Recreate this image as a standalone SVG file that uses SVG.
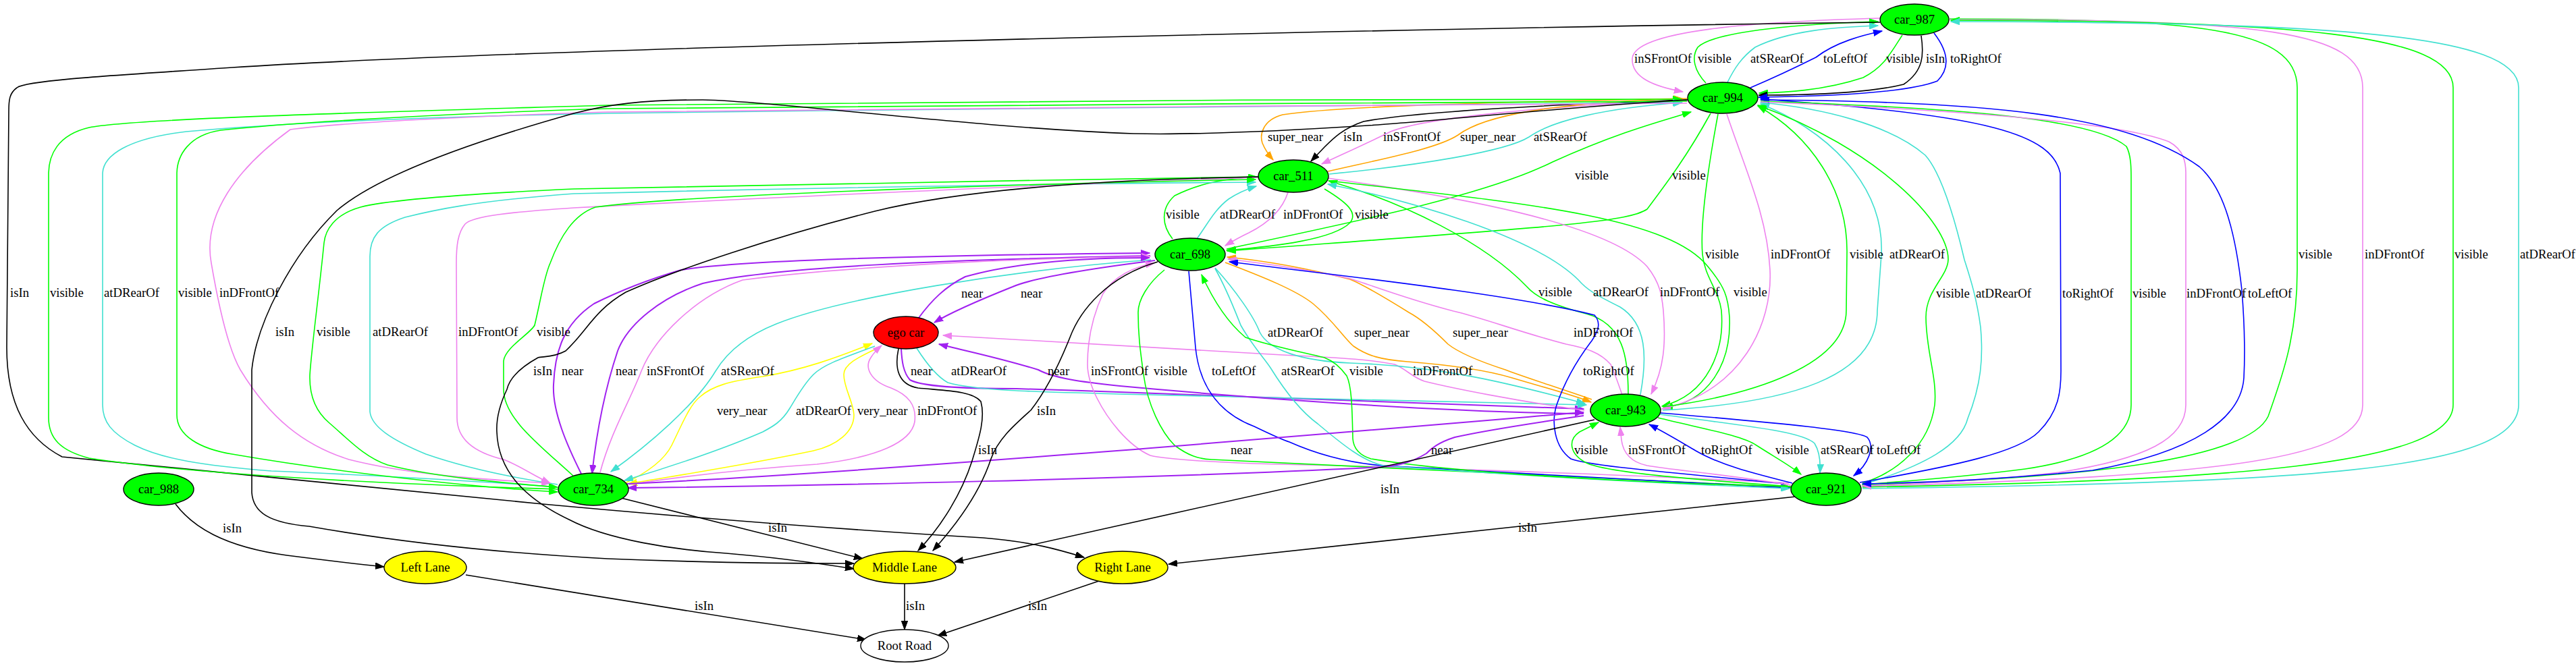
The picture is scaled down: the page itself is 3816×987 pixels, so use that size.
<svg xmlns="http://www.w3.org/2000/svg" width="3816" height="987" viewBox="0 0 3816 987">
<style>
.e{fill:none;stroke-width:1.6}
.k{stroke:#000000;marker-end:url(#ak)}
.b{stroke:#0000ff;marker-end:url(#ab)}
.g{stroke:#00ff00;marker-end:url(#ag)}
.c{stroke:#40e0d0;marker-end:url(#ac)}
.v{stroke:#ee82ee;marker-end:url(#av)}
.p{stroke:#a020f0;stroke-width:2;marker-end:url(#ap)}
.o{stroke:#ffa500;marker-end:url(#ao)}
.y{stroke:#ffff00;marker-end:url(#ay)}
.l{font-family:"Liberation Serif","Times New Roman",serif;font-size:18.67px;fill:#000000}
.n{font-family:"Liberation Serif","Times New Roman",serif;font-size:18.67px;fill:#000000;text-anchor:middle}
.nd{stroke:#000000;stroke-width:1.4}
</style>
<defs>
<marker id="ak" viewBox="0 0 14 10" refX="13" refY="5" markerWidth="14" markerHeight="10" markerUnits="userSpaceOnUse" orient="auto"><path d="M0,0.3L13,5L0,9.7z" fill="#000000" stroke="#000000"/></marker>
<marker id="ab" viewBox="0 0 14 10" refX="13" refY="5" markerWidth="14" markerHeight="10" markerUnits="userSpaceOnUse" orient="auto"><path d="M0,0.3L13,5L0,9.7z" fill="#0000ff" stroke="#0000ff"/></marker>
<marker id="ag" viewBox="0 0 14 10" refX="13" refY="5" markerWidth="14" markerHeight="10" markerUnits="userSpaceOnUse" orient="auto"><path d="M0,0.3L13,5L0,9.7z" fill="#00ff00" stroke="#00ff00"/></marker>
<marker id="ac" viewBox="0 0 14 10" refX="13" refY="5" markerWidth="14" markerHeight="10" markerUnits="userSpaceOnUse" orient="auto"><path d="M0,0.3L13,5L0,9.7z" fill="#40e0d0" stroke="#40e0d0"/></marker>
<marker id="av" viewBox="0 0 14 10" refX="13" refY="5" markerWidth="14" markerHeight="10" markerUnits="userSpaceOnUse" orient="auto"><path d="M0,0.3L13,5L0,9.7z" fill="#ee82ee" stroke="#ee82ee"/></marker>
<marker id="ap" viewBox="0 0 14 10" refX="13" refY="5" markerWidth="14" markerHeight="10" markerUnits="userSpaceOnUse" orient="auto"><path d="M0,0.3L13,5L0,9.7z" fill="#a020f0" stroke="#a020f0"/></marker>
<marker id="ao" viewBox="0 0 14 10" refX="13" refY="5" markerWidth="14" markerHeight="10" markerUnits="userSpaceOnUse" orient="auto"><path d="M0,0.3L13,5L0,9.7z" fill="#ffa500" stroke="#ffa500"/></marker>
<marker id="ay" viewBox="0 0 14 10" refX="13" refY="5" markerWidth="14" markerHeight="10" markerUnits="userSpaceOnUse" orient="auto"><path d="M0,0.3L13,5L0,9.7z" fill="#ffff00" stroke="#ffff00"/></marker>
</defs>
<rect width="3816" height="987" fill="#ffffff"/>
<g id="connectors">
<!-- car_987 <-> car_994 -->
<path class="e v" d="M2786,27 C2600,32 2420,45 2418,87 C2417,115 2450,128 2493,136"/>
<path class="e g" d="M2527,123 C2510,105 2505,85 2515,70 C2540,45 2680,35 2782,32"/>
<path class="e c" d="M2559,122 C2570,100 2580,85 2600,70 C2650,45 2720,40 2782,38"/>
<path class="e b" d="M2593,130 C2640,110 2670,95 2690,85 C2720,62 2760,52 2788,46"/>
<path class="e g" d="M2818,52 C2800,80 2790,100 2760,115 C2700,135 2640,137 2606,138"/>
<path class="e k" d="M2846,53 C2850,80 2850,105 2820,125 C2760,140 2660,141 2605,141"/>
<path class="e b" d="M2865,49 C2885,75 2890,100 2870,120 C2820,140 2680,143 2605,144"/>
<!-- car_987 isIn Right Lane -->
<path class="e k" d="M2785,33 C2200,40 800,70 344,100 C200,110 40,118 25,130 C14,138 13,148 13,165 L10,515 C10,600 40,650 92,677 L804,747 C1000,765 1200,782 1456,797 C1530,803 1570,815 1606,826"/>
<!-- car_987 <-> car_921 -->
<path class="e g" d="M2888,28 C3250,28 3403,40 3403,130 L3403,400 C3403,500 3380,560 3360,617 C3330,680 3100,708 2759,719"/>
<path class="e v" d="M2888,29 C3350,29 3500,45 3500,130 L3500,600 C3500,680 3300,705 2759,721"/>
<path class="e g" d="M2759,722 C3300,712 3634,690 3634,600 L3634,130 C3634,50 3400,31 2890,30"/>
<path class="e c" d="M2759,724 C3400,715 3731,700 3731,600 L3731,130 C3731,50 3450,33 2890,32"/>
<!-- car_994 <-> car_511 -->
<path class="e o" d="M2499,146 C2300,150 2000,155 1900,170 C1870,178 1866,200 1870,212 C1874,222 1879,229 1886,237"/>
<path class="e k" d="M2500,148 C2300,155 2100,165 2020,180 C1990,190 1975,205 1962,218 L1942,239"/>
<path class="e v" d="M2500,150 C2300,155 2110,175 2060,195 C2030,210 1990,228 1958,243"/>
<path class="e o" d="M1967,254 C2050,235 2130,220 2160,200 C2200,170 2300,153 2492,146"/>
<path class="e c" d="M1969,258 C2100,245 2230,225 2265,203 C2300,178 2380,160 2492,152"/>
<!-- car_994 <-> car_698 -->
<path class="e g" d="M1817,369 C2000,330 2200,290 2300,240 C2400,195 2460,180 2505,166"/>
<path class="e g" d="M2534,168 C2500,230 2470,270 2440,310 C2410,330 2300,336 1818,372"/>
<!-- car_511 <-> car_698 -->
<path class="e g" d="M1737,354 C1722,335 1718,310 1740,290 C1780,270 1820,264 1862,262"/>
<path class="e c" d="M1773,354 C1790,330 1800,310 1820,295 C1835,285 1848,280 1861,276"/>
<path class="e v" d="M1908,285 C1900,310 1880,330 1850,345 C1835,352 1825,358 1815,364"/>
<path class="e g" d="M1962,280 C1995,300 2012,315 2000,330 C1975,355 1890,365 1817,371"/>
<!-- car_511 <-> car_943 -->
<path class="e g" d="M2412,584 C2412,530 2405,480 2350,465 C2300,452 2275,440 2262,425 C2200,360 2080,300 1968,268"/>
<path class="e c" d="M2430,585 C2440,530 2440,480 2400,455 C2370,440 2355,432 2343,420 C2280,350 2080,295 1967,273"/>
<path class="e v" d="M1967,264 C2150,290 2380,330 2440,395 C2460,420 2462,440 2464,460 C2468,510 2465,545 2446,584"/>
<path class="e g" d="M1968,268 C2250,300 2470,320 2530,395 C2555,425 2560,440 2562,470 C2565,540 2530,597 2465,604"/>
<!-- car_994 <-> car_943 -->
<path class="e g" d="M2545,169 C2530,250 2518,330 2522,377 C2525,410 2546,430 2550,460 C2555,520 2530,585 2462,602"/>
<path class="e v" d="M2558,169 C2585,250 2618,320 2622,400 C2626,480 2580,580 2462,606"/>
<path class="e g" d="M2463,603 C2600,585 2735,540 2735,460 L2736,377 C2738,280 2680,200 2604,157"/>
<path class="e c" d="M2463,608 C2650,597 2781,560 2781,460 L2787,377 C2792,270 2700,190 2608,154"/>
<!-- car_994 <-> car_921 -->
<path class="e g" d="M2759,716 C2810,700 2858,660 2866,600 C2870,560 2853,520 2853,470 C2853,430 2885,410 2886,385 C2887,330 2780,220 2604,156"/>
<path class="e c" d="M2763,717 C2850,690 2905,660 2915,620 C2935,570 2938,530 2934,485 C2928,440 2918,410 2910,385 C2890,300 2870,250 2852,230 C2800,185 2700,160 2608,152"/>
<path class="e b" d="M2755,715 C2900,690 2990,670 3020,640 C3050,610 3053,580 3053,550 L3052,257 C3040,200 2950,170 2608,147"/>
<path class="e g" d="M2608,150 C2900,160 3100,175 3150,217 C3157,230 3157,250 3157,263 L3157,600 C3157,650 3100,680 3000,695 C2900,708 2800,715 2759,718"/>
<path class="e v" d="M2608,151 C2950,165 3150,185 3213,210 C3235,222 3238,240 3238,257 L3238,600 C3238,650 3180,680 3050,700 C2950,712 2820,718 2759,720"/>
<path class="e b" d="M2608,148 C2950,150 3150,170 3258,247 C3290,275 3310,330 3321,430 C3325,480 3326,520 3324,560 C3320,620 3250,670 3100,697 C2950,712 2820,716 2759,717"/>
<!-- car_994 <-> car_734 -->
<path class="e g" d="M826,725 C600,718 300,705 132,679 C90,668 72,650 72,619 L72,258 C72,230 85,200 132,189 C200,175 600,165 900,156 C1200,150 2000,147 2491,147"/>
<path class="e c" d="M826,722 C700,712 500,702 402,698 C300,690 240,680 200,660 C165,642 152,625 152,600 L152,258 C152,230 190,205 276,195 C500,175 800,170 900,168 C1500,160 2200,153 2491,152"/>
<path class="e g" d="M2499,150 C2000,152 1200,158 900,161 C600,170 400,185 327,193 C280,200 262,230 262,258 L262,615 C262,645 295,665 344,673 C500,700 700,722 826,729"/>
<path class="e v" d="M2499,153 C2000,156 1200,162 900,166 C700,172 500,182 430,192 C350,250 300,320 313,390 C325,460 340,520 356,548 C400,620 450,660 517,681 C600,702 700,710 815,716"/>
<!-- car_511 <-> car_734 -->
<path class="e g" d="M1864,262 C1500,268 1000,275 850,280 C700,287 580,295 534,307 C495,318 482,341 480,360 C472,440 461,520 459,556 C458,590 470,612 488,627 C515,650 540,678 574,689 C650,708 750,716 826,722"/>
<path class="e c" d="M826,718 C740,705 680,690 631,673 C580,652 550,632 548,610 L548,380 C548,352 560,335 600,322 C640,312 700,298 850,287 C1300,276 1700,271 1860,270"/>
<path class="e v" d="M1865,263 C1500,275 1000,300 850,308 C760,314 700,320 689,332 C678,345 676,365 676,390 L677,619 C677,650 700,670 746,681 C770,690 790,705 815,716"/>
<path class="e g" d="M850,706 C800,660 746,620 746,577 L746,535 C748,515 785,495 792,482 C802,440 806,410 815,390 C830,350 850,318 882,307 C1000,290 1500,272 1860,266"/>
<!-- car_698 <-> car_734 -->
<path class="e p" d="M861,702 C840,660 818,610 820,570 C822,520 835,480 880,450 C930,425 975,410 1009,400 C1100,385 1400,378 1703,375"/>
<path class="e p" d="M1704,379 C1400,385 1150,395 1041,420 C980,440 930,480 915,520 C900,565 885,630 877,702"/>
<path class="e v" d="M889,700 C905,640 935,590 950,550 C970,500 1030,440 1100,415 C1250,395 1500,383 1704,380"/>
<path class="e c" d="M1705,385 C1500,400 1250,440 1150,480 C1100,500 1075,525 1060,550 C1030,600 960,660 905,699"/>
<!-- car_698 <-> ego car -->
<path class="e p" d="M1361,471 C1380,445 1400,425 1430,410 C1500,390 1600,382 1703,382"/>
<path class="e p" d="M1711,386 C1600,400 1530,412 1500,425 C1450,445 1410,462 1384,478"/>
<!-- ego car <-> car_734 -->
<path class="e y" d="M924,717 C960,700 985,680 995,660 C1012,625 1022,600 1037,588 C1055,572 1080,565 1130,558 C1190,548 1240,530 1292,509"/>
<path class="e c" d="M1296,513 C1250,530 1220,540 1205,555 C1190,570 1178,592 1170,605 C1158,625 1145,632 1130,640 C1080,662 1000,690 925,712"/>
<path class="e y" d="M1300,516 C1270,530 1250,540 1250,555 C1250,575 1264,595 1265,615 C1265,640 1240,660 1205,668 C1100,690 1000,705 931,717"/>
<path class="e v" d="M932,718 C1050,700 1150,692 1210,688 C1300,678 1350,655 1355,625 C1358,600 1345,585 1320,575 C1290,565 1280,545 1290,530 C1295,522 1300,517 1306,512"/>
<!-- ego car <-> car_943 -->
<path class="e p" d="M1335,517 C1336,535 1338,552 1348,563 C1370,575 1450,576 1506,576 C1800,585 2100,597 2346,606"/>
<path class="e c" d="M1358,516 C1372,538 1388,558 1404,567 C1450,580 1550,581 1700,585 C1950,592 2200,597 2350,600"/>
<path class="e p" d="M2346,613 C2100,610 1800,585 1659,572 C1600,566 1560,560 1538,548 C1480,530 1430,520 1391,510"/>
<path class="e v" d="M2347,608 C2250,595 2150,575 2110,565 C2090,558 2085,548 2066,540 C2030,533 2000,531 1900,526 C1700,515 1500,503 1397,497"/>
<!-- car_698 <-> car_943 -->
<path class="e o" d="M1815,389 C1870,410 1920,430 1945,450 C1975,475 1990,500 2005,513 C2025,527 2045,533 2085,536 C2150,541 2200,548 2240,560 C2290,575 2330,585 2357,596"/>
<path class="e o" d="M2358,592 C2300,572 2250,556 2230,548 C2190,535 2160,522 2145,510 C2120,485 2100,470 2087,463 C2050,440 2020,422 2000,414 C1930,396 1870,386 1818,381"/>
<path class="e c" d="M1800,397 C1830,430 1858,470 1866,492 C1880,520 1930,535 2000,538 C2150,543 2260,575 2348,598"/>
<path class="e v" d="M2403,585 C2395,562 2390,548 2386,540 C2370,522 2350,516 2320,510 C2250,492 2200,472 2153,461 C2080,442 2030,422 2000,413 C1930,398 1870,390 1819,384"/>
<!-- car_698 <-> car_921 -->
<path class="e v" d="M2650,716 C2400,702 2000,690 1857,687 C1780,684 1725,680 1704,675 C1670,660 1640,620 1625,590 C1615,570 1611,555 1611,540 C1611,500 1620,465 1634,435 C1650,410 1680,395 1710,390"/>
<path class="e g" d="M1725,400 C1700,420 1686,445 1686,463 C1686,500 1690,525 1694,555 C1700,600 1720,640 1740,660 C1760,675 1775,680 1795,681 C1950,690 2300,703 2653,722"/>
<path class="e b" d="M1761,402 C1765,450 1769,490 1771,515 C1776,565 1800,610 1858,632 C1885,645 1900,652 1910,655 C1955,675 2000,686 2048,690 C2200,700 2450,712 2651,723"/>
<path class="e c" d="M1800,398 C1818,430 1830,462 1838,482 C1855,512 1872,530 1882,545 C1905,582 1930,612 1952,628 C1990,660 2020,684 2050,690 C2250,705 2450,716 2651,724"/>
<path class="e g" d="M2652,721 C2400,715 2150,700 2031,680 C2015,675 2005,665 2004,650 C2003,600 2002,572 1995,557 C1985,543 1975,535 1962,530 C1920,520 1880,512 1845,500 C1815,475 1795,440 1780,407"/>
<path class="e b" d="M2643,717 C2500,702 2360,692 2327,680 C2302,662 2298,625 2306,600 C2318,565 2335,535 2358,505 C2368,490 2372,478 2362,467 C2250,438 2000,410 1821,388"/>
<!-- car_943 <-> car_921 -->
<path class="e g" d="M2653,721 C2500,710 2380,700 2350,686 C2325,673 2322,652 2340,640 L2368,626"/>
<path class="e v" d="M2653,719 C2550,702 2480,697 2440,690 C2412,684 2404,668 2402,652 L2400,633"/>
<path class="e b" d="M2655,716 C2600,702 2550,690 2512,668 C2485,652 2465,640 2443,629"/>
<path class="e g" d="M2456,619 C2520,635 2580,645 2602,660 C2630,678 2652,690 2668,703"/>
<path class="e c" d="M2459,614 C2600,633 2670,640 2688,657 C2696,670 2697,685 2696,701"/>
<path class="e b" d="M2460,612 C2650,628 2750,638 2766,648 C2778,662 2768,688 2746,705"/>
<!-- car_943 <-> car_734 -->
<path class="e p" d="M929,717 C1300,700 2000,640 2346,611"/>
<path class="e p" d="M2346,616 C2250,630 2190,640 2155,648 C2130,656 2120,665 2113,672 C2090,686 2070,690 2048,692 C1700,710 1200,720 930,723"/>
<!-- isIn to lanes -->
<path class="e k" d="M2499,148 C2300,160 2100,182 2026,186 C1900,194 1760,200 1679,198 C1450,190 1150,150 1041,148 C950,148 900,155 850,168 C700,210 560,260 499,312 C430,380 380,480 373,548 L373,730 C375,760 400,775 458,780 C600,805 750,820 900,828 C1050,834 1180,835 1265,835"/>
<path class="e k" d="M1864,262 C1700,265 1450,275 1296,313 C1150,350 1000,400 927,433 C880,460 870,490 838,520 C820,530 805,528 797,530 C770,545 755,560 751,577 C740,600 735,620 736,640 C738,700 780,740 843,770 C900,800 1000,815 1076,820 C1150,826 1220,836 1265,843"/>
<path class="e k" d="M1715,388 C1640,410 1600,460 1585,500 C1565,550 1545,585 1527,608 C1500,632 1478,652 1468,680 C1450,735 1410,785 1382,816"/>
<path class="e k" d="M1331,517 C1325,545 1330,570 1360,575 C1400,579 1440,579 1453,595 C1460,620 1450,650 1440,683 C1425,730 1395,780 1360,816"/>
<path class="e k" d="M2362,622 L1414,833"/>
<path class="e k" d="M920,738 L1278,828"/>
<path class="e k" d="M2660,736 L1731,836"/>
<path class="e k" d="M260,747 C285,780 330,810 425,823 C480,830 530,836 569,840"/>
<path class="e k" d="M690,852 L1283,948"/>
<path class="e k" d="M1340,865 L1340,933"/>
<path class="e k" d="M1628,861 L1389,942"/>
<g id="edge-labels">
<text class="l" x="2421" y="93">inSFrontOf</text>
<text class="l" x="2515" y="93">visible</text>
<text class="l" x="2593" y="93">atSRearOf</text>
<text class="l" x="2701" y="93">toLeftOf</text>
<text class="l" x="2794" y="93">visible</text>
<text class="l" x="2853" y="93">isIn</text>
<text class="l" x="2889" y="93">toRightOf</text>
<text class="l" x="15" y="440">isIn</text>
<text class="l" x="3405" y="383">visible</text>
<text class="l" x="3503" y="383">inDFrontOf</text>
<text class="l" x="3636" y="383">visible</text>
<text class="l" x="3733" y="383">atDRearOf</text>
<text class="l" x="1878" y="209">super_near</text>
<text class="l" x="1990" y="209">isIn</text>
<text class="l" x="2049" y="209">inSFrontOf</text>
<text class="l" x="2163" y="209">super_near</text>
<text class="l" x="2272" y="209">atSRearOf</text>
<text class="l" x="2333" y="266">visible</text>
<text class="l" x="2477" y="266">visible</text>
<text class="l" x="1727" y="324">visible</text>
<text class="l" x="1807" y="324">atDRearOf</text>
<text class="l" x="1901" y="324">inDFrontOf</text>
<text class="l" x="2007" y="324">visible</text>
<text class="l" x="2279" y="439">visible</text>
<text class="l" x="2360" y="439">atDRearOf</text>
<text class="l" x="2459" y="439">inDFrontOf</text>
<text class="l" x="2568" y="439">visible</text>
<text class="l" x="2526" y="383">visible</text>
<text class="l" x="2623" y="383">inDFrontOf</text>
<text class="l" x="2740" y="383">visible</text>
<text class="l" x="2799" y="383">atDRearOf</text>
<text class="l" x="2868" y="441">visible</text>
<text class="l" x="2927" y="441">atDRearOf</text>
<text class="l" x="3055" y="441">toRightOf</text>
<text class="l" x="3159" y="441">visible</text>
<text class="l" x="3239" y="441">inDFrontOf</text>
<text class="l" x="3330" y="441">toLeftOf</text>
<text class="l" x="74" y="440">visible</text>
<text class="l" x="154" y="440">atDRearOf</text>
<text class="l" x="264" y="440">visible</text>
<text class="l" x="325" y="440">inDFrontOf</text>
<text class="l" x="408" y="498">isIn</text>
<text class="l" x="469" y="498">visible</text>
<text class="l" x="552" y="498">atDRearOf</text>
<text class="l" x="679" y="498">inDFrontOf</text>
<text class="l" x="795" y="498">visible</text>
<text class="l" x="790" y="556">isIn</text>
<text class="l" x="832" y="556">near</text>
<text class="l" x="912" y="556">near</text>
<text class="l" x="958" y="556">inSFrontOf</text>
<text class="l" x="1068" y="556">atSRearOf</text>
<text class="l" x="1424" y="441">near</text>
<text class="l" x="1512" y="441">near</text>
<text class="l" x="1062" y="615">very_near</text>
<text class="l" x="1179" y="615">atDRearOf</text>
<text class="l" x="1270" y="615">very_near</text>
<text class="l" x="1359" y="615">inDFrontOf</text>
<text class="l" x="1536" y="615">isIn</text>
<text class="l" x="1349" y="556">near</text>
<text class="l" x="1409" y="556">atDRearOf</text>
<text class="l" x="1552" y="556">near</text>
<text class="l" x="2093" y="556">inDFrontOf</text>
<text class="l" x="1878" y="499">atDRearOf</text>
<text class="l" x="2006" y="499">super_near</text>
<text class="l" x="2152" y="499">super_near</text>
<text class="l" x="2331" y="499">inDFrontOf</text>
<text class="l" x="1616" y="556">inSFrontOf</text>
<text class="l" x="1709" y="556">visible</text>
<text class="l" x="1795" y="556">toLeftOf</text>
<text class="l" x="1898" y="556">atSRearOf</text>
<text class="l" x="1999" y="556">visible</text>
<text class="l" x="2345" y="556">toRightOf</text>
<text class="l" x="2332" y="673">visible</text>
<text class="l" x="2412" y="673">inSFrontOf</text>
<text class="l" x="2520" y="673">toRightOf</text>
<text class="l" x="2630" y="673">visible</text>
<text class="l" x="2697" y="673">atSRearOf</text>
<text class="l" x="2780" y="673">toLeftOf</text>
<text class="l" x="1823" y="673">near</text>
<text class="l" x="2120" y="673">near</text>
<text class="l" x="1449" y="673">isIn</text>
<text class="l" x="2045" y="731">isIn</text>
<text class="l" x="1138" y="788">isIn</text>
<text class="l" x="2249" y="788">isIn</text>
<text class="l" x="330" y="789">isIn</text>
<text class="l" x="1029" y="904">isIn</text>
<text class="l" x="1342" y="904">isIn</text>
<text class="l" x="1523" y="904">isIn</text>
</g>
</g>
<g id="node-car_987"><ellipse class="nd" cx="2836" cy="29" rx="51" ry="23" fill="#00ff00"/><text class="n" x="2836" y="35">car_987</text></g>
<g id="node-car_994"><ellipse class="nd" cx="2552" cy="145" rx="52" ry="23" fill="#00ff00"/><text class="n" x="2552" y="151">car_994</text></g>
<g id="node-car_511"><ellipse class="nd" cx="1916" cy="261" rx="52" ry="24" fill="#00ff00"/><text class="n" x="1916" y="267">car_511</text></g>
<g id="node-car_698"><ellipse class="nd" cx="1763" cy="377" rx="52" ry="24" fill="#00ff00"/><text class="n" x="1763" y="383">car_698</text></g>
<g id="node-ego_car"><ellipse class="nd" cx="1342" cy="493" rx="48" ry="24" fill="#ff0000"/><text class="n" x="1342" y="499">ego car</text></g>
<g id="node-car_943"><ellipse class="nd" cx="2408" cy="608" rx="52" ry="24" fill="#00ff00"/><text class="n" x="2408" y="614">car_943</text></g>
<g id="node-car_734"><ellipse class="nd" cx="879" cy="725" rx="52" ry="24" fill="#00ff00"/><text class="n" x="879" y="731">car_734</text></g>
<g id="node-car_921"><ellipse class="nd" cx="2705" cy="725" rx="52" ry="24" fill="#00ff00"/><text class="n" x="2705" y="731">car_921</text></g>
<g id="node-car_988"><ellipse class="nd" cx="235" cy="725" rx="52" ry="24" fill="#00ff00"/><text class="n" x="235" y="731">car_988</text></g>
<g id="node-left_lane"><ellipse class="nd" cx="630" cy="841" rx="61" ry="24" fill="#ffff00"/><text class="n" x="630" y="847">Left Lane</text></g>
<g id="node-middle_lane"><ellipse class="nd" cx="1340" cy="841" rx="76" ry="24" fill="#ffff00"/><text class="n" x="1340" y="847">Middle Lane</text></g>
<g id="node-right_lane"><ellipse class="nd" cx="1663" cy="841" rx="67" ry="24" fill="#ffff00"/><text class="n" x="1663" y="847">Right Lane</text></g>
<g id="node-root_road"><ellipse class="nd" cx="1340" cy="957" rx="65" ry="24" fill="#ffffff"/><text class="n" x="1340" y="963">Root Road</text></g>
</svg>
